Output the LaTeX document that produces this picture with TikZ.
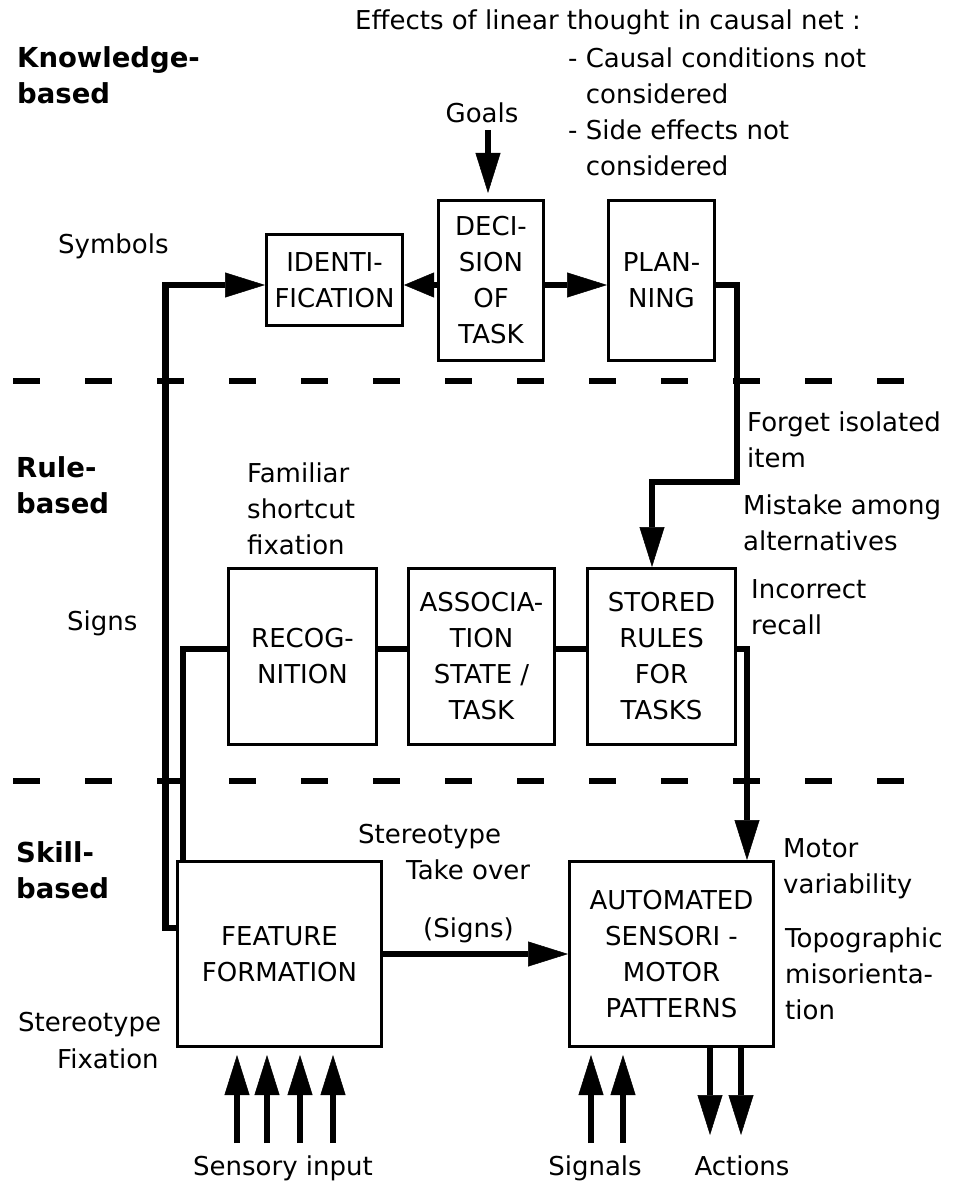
\documentclass[tikz,border=0pt]{standalone}
\usepackage{fontspec}
\setmainfont{DejaVu Sans}
\usetikzlibrary{arrows.meta}
\begin{document}
\begin{tikzpicture}[x=1pt,y=-1pt,
  every node/.style={inner sep=0pt, font=\fontsize{26}{36}\selectfont},
  lbl/.style={anchor=base west, align=left},
  lvl/.style={anchor=base west, align=left, font=\fontsize{27.5}{36}\selectfont\bfseries},
  blk/.style={draw, line width=3pt, align=center},
  conn/.style={line width=6.5pt},
  arr/.style={-{Triangle[length=40pt,width=25pt,line width=0.5pt]}},
  shortarr/.style={-{Triangle[length=30pt,width=25pt,line width=0.5pt]}},
  levelsep/.style={line width=6.5pt, dash pattern=on 27pt off 45pt}
]
\useasboundingbox[fill=white] (0,0) rectangle (953,1182);

% level separators
\coordinate (s1a) at (13,381);  \coordinate (s1b) at (904,381);
\coordinate (s2a) at (13,781);  \coordinate (s2b) at (904,781);
\draw[levelsep] (s1a) -- (s1b);
\draw[levelsep] (s2a) -- (s2b);

% level names (anchored on the baseline of their last line)
\node[lvl] (kb) at (17,104) {Knowledge-\\based};
\node[lvl] (rb) at (16,513) {Rule-\\based};
\node[lvl] (sb) at (16,898) {Skill-\\based};

% knowledge-based level
\node[lbl] (effects) at (355,30) {Effects of linear thought in causal net :};
\node[lbl] (cond) at (568,176) {- Causal conditions not\\\phantom{- }considered\\- Side effects not\\\phantom{- }considered};
\node[anchor=base] (goals) at (482,123) {Goals};
\node[lbl] (symbols) at (58,253) {Symbols};

\node[blk, minimum width=136pt, minimum height=91pt]  (ident)  at (334.5,280)   {IDENTI-\\FICATION};
\node[blk, minimum width=105pt, minimum height=160pt] (decis)  at (491,280.5)   {DECI-\\SION\\OF\\TASK};
\node[blk, minimum width=106pt, minimum height=160pt] (plan)   at (661.5,280.5) {PLAN-\\NING};

% rule-based level
\node[lbl] (familiar) at (247,554) {Familiar\\shortcut\\fixation};
\node[lbl] (signs)    at (67,630)  {Signs};
\node[lbl] (forget)   at (747,467) {Forget isolated\\item};
\node[lbl] (mistake)  at (743,550) {Mistake among\\alternatives};
\node[lbl] (recall)   at (751,634) {Incorrect\\recall};

\node[blk, minimum width=148pt, minimum height=176pt] (recog)  at (302.5,656.5) {RECOG-\\NITION};
\node[blk, minimum width=146pt, minimum height=176pt] (assoc)  at (481.5,656.5) {ASSOCIA-\\TION\\STATE /\\TASK};
\node[blk, minimum width=148pt, minimum height=176pt] (stored) at (661.5,656.5) {STORED\\RULES\\FOR\\TASKS};

% skill-based level
\node[lbl] (takeover) at (358,879) {Stereotype\\\hspace*{48pt}Take over};
\node[lbl] (signs2)   at (423,937) {(Signs)};
\node[lbl] (stfix)    at (18,1031) {Stereotype};
\node[lbl] (stfix2)   at (57,1068) {Fixation};
\node[lbl] (motor)    at (783,893) {Motor\\variability};
\node[lbl] (topo)     at (785,1019) {Topographic\\misorienta-\\tion};

\node[blk, minimum width=204pt, minimum height=185pt] (feat) at (279.5,954) {FEATURE\\FORMATION};
\node[blk, minimum width=204pt, minimum height=185pt] (auto) at (671.5,954) {AUTOMATED\\SENSORI -\\MOTOR\\PATTERNS};

\node[anchor=base] (sensory) at (283,1175) {Sensory input};
\node[anchor=base] (signals) at (595,1175) {Signals};
\node[anchor=base] (actions) at (742,1175) {Actions};

% routing rows and columns
\coordinate (rowK) at (0,285);
\coordinate (rowR) at (0,649);
\coordinate (rowS) at (0,954);
\coordinate (colL) at (165.5,0);
\coordinate (colP) at (737,0);
\coordinate (colM) at (747,0);
\coordinate (gTop) at (488,130);

% connectors
\draw[conn, arr] (gTop) -- ([yshift=6pt]decis.north -| gTop);
\draw[conn, arr] ([yshift=26pt]feat.west) -| (colL |- rowK) -- (ident.west |- rowK);
\draw[conn, shortarr] (decis.west |- rowK) -- (ident.east |- rowK);
\draw[conn, arr] (decis.east |- rowK) -- (plan.west |- rowK);
\draw[conn, arr] (plan.east |- rowK) -| (colP |- 0,482) -| ([xshift=-9.5pt]stored.north);

\draw[conn] (recog.west |- rowR) -| ([xshift=7pt]feat.north west);
\draw[conn] (recog.east |- rowR) -- (assoc.west |- rowR);
\draw[conn] (assoc.east |- rowR) -- (stored.west |- rowR);
\draw[conn, arr] (stored.east |- rowR) -| (auto.north -| colM);

\draw[conn, arr] (feat.east |- rowS) -- (auto.west |- rowS);

\foreach \x [count=\i] in {237,267,300,333} {
  \coordinate (in\i) at (\x,1143);
  \draw[conn, arr] (in\i) -- ([yshift=-7pt]feat.south -| in\i);
}
\foreach \x [count=\i] in {591,623} {
  \coordinate (sg\i) at (\x,1143);
  \draw[conn, arr] (sg\i) -- ([yshift=-7pt]auto.south -| sg\i);
}
\foreach \x [count=\i] in {710,741} {
  \coordinate (out\i) at (\x,1135);
  \draw[conn, arr] (auto.south -| out\i) -- (out\i);
}
\end{tikzpicture}
\end{document}
